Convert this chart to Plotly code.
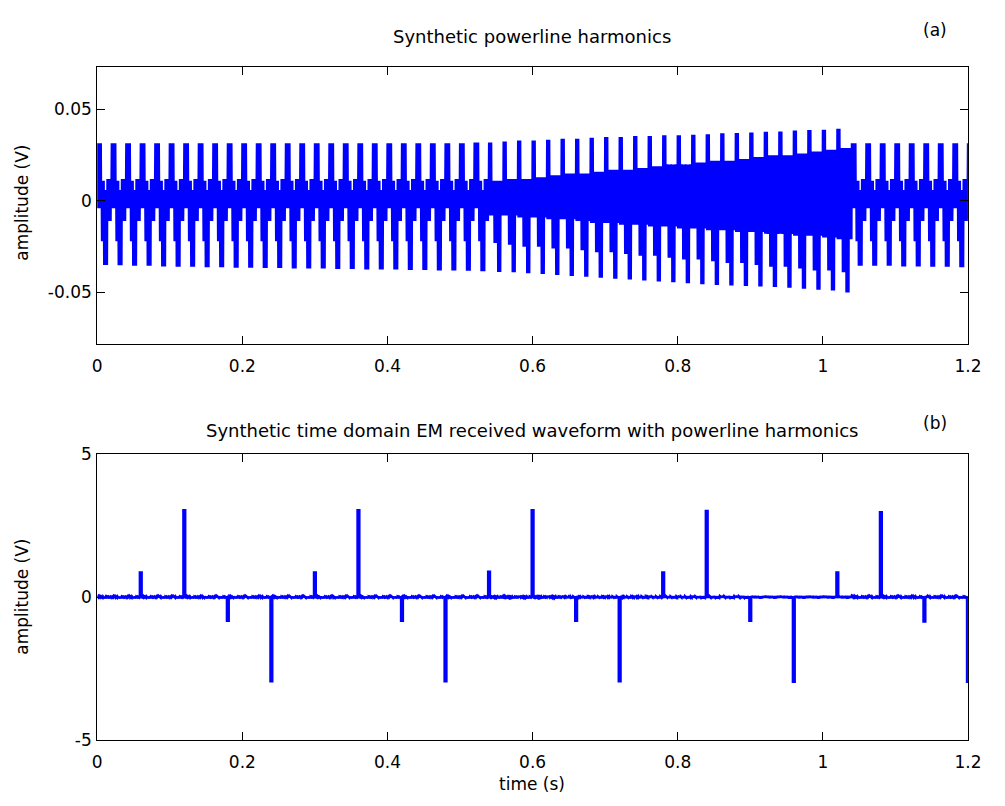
import plotly.graph_objects as go

# ---------------- data ----------------
CYCLE_S = 0.02          # 50 Hz fundamental, 60 cycles over 1.2 s
N_CYCLES = 60

# per-cycle positive / negative peak of panel (a)  (V)
top_peak = [0.0315, 0.0315, 0.0315, 0.0315, 0.0315, 0.0315, 0.0315, 0.0315, 0.0315, 0.0315,
            0.0315, 0.0315, 0.0315, 0.0315, 0.0315, 0.0315, 0.0315, 0.0315, 0.0315, 0.0315,
            0.0315, 0.0315, 0.0315, 0.0315, 0.0315, 0.0315, 0.032, 0.032, 0.0325, 0.033,
            0.033, 0.0335, 0.034, 0.034, 0.0345, 0.035, 0.035, 0.0355, 0.0355, 0.036,
            0.036, 0.0362, 0.0365, 0.037, 0.0372, 0.0375, 0.0378, 0.038, 0.0385, 0.0388,
            0.039, 0.0395, 0.0315, 0.0315, 0.0315, 0.0315, 0.0315, 0.0315, 0.0315, 0.0315]
bottom_peak = [-0.0350, -0.0352, -0.0355, -0.0355, -0.0358, -0.0360, -0.0360, -0.0362, -0.0362, -0.0365,
               -0.0365, -0.0367, -0.0367, -0.0370, -0.0370, -0.0370, -0.0372, -0.0372, -0.0375, -0.0375,
               -0.0375, -0.0378, -0.0378, -0.0380, -0.0380, -0.0382, -0.0385, -0.0388, -0.0390, -0.0395,
               -0.0400, -0.0405, -0.0410, -0.0415, -0.0420, -0.0425, -0.0430, -0.0435, -0.0440, -0.0445,
               -0.0450, -0.0455, -0.0460, -0.0462, -0.0465, -0.0468, -0.0470, -0.0475, -0.0480, -0.0485,
               -0.0490, -0.0500, -0.0355, -0.0355, -0.0355, -0.0358, -0.0358, -0.0360, -0.0360, -0.0362]

# disturbed cycles (dense inner band): upper edge, lower edge, inner dip
band_hi = {27: 0.011, 28: 0.012, 29: 0.012, 30: 0.013, 31: 0.014, 32: 0.015, 33: 0.015,
           34: 0.016, 35: 0.017, 36: 0.017, 37: 0.018, 38: 0.019, 39: 0.020, 40: 0.020, 41: 0.021,
           42: 0.022, 43: 0.022, 44: 0.023, 45: 0.024, 46: 0.025, 47: 0.025, 48: 0.026, 49: 0.027,
           50: 0.028, 51: 0.029}
band_lo = {27: -0.008, 28: -0.008, 29: -0.009, 30: -0.009, 31: -0.010, 32: -0.010, 33: -0.011,
           34: -0.012, 35: -0.012, 36: -0.013, 37: -0.013, 38: -0.014, 39: -0.014, 40: -0.015, 41: -0.015,
           42: -0.016, 43: -0.016, 44: -0.017, 45: -0.017, 46: -0.018, 47: -0.018, 48: -0.019, 49: -0.019,
           50: -0.020, 51: -0.021}
band_dip = {27: -0.023, 28: -0.024, 29: -0.025, 30: -0.025, 31: -0.026, 32: -0.026, 33: -0.027,
            34: -0.028, 35: -0.028, 36: -0.029, 37: -0.030, 38: -0.030, 39: -0.031, 40: -0.032, 41: -0.032,
            42: -0.033, 43: -0.034, 44: -0.034, 45: -0.035, 46: -0.036, 47: -0.036, 48: -0.037, 49: -0.038,
            50: -0.038, 51: -0.039}

# envelope of one cycle of the (very dense) harmonic signal:
# (phase start, phase end, upper level, lower level); "T"/"B"/"H"/"L"/"D" = per-cycle values above
normal_env = [(0.00, 0.30, "T", -0.004),
              (0.30, 0.46, 0.011, -0.022),
              (0.46, 0.70, 0.006, "B"),
              (0.70, 0.96, 0.012, -0.011),
              (0.96, 1.00, 0.022, 0.004)]
disturbed_env = [(0.00, 0.18, "T", "L"),
                 (0.18, 0.34, "H", "L"),
                 (0.34, 0.48, "H", "D"),
                 (0.48, 0.58, "H", "L"),
                 (0.58, 0.78, "H", "B"),
                 (0.78, 1.00, "H", "L")]
SAMPLES_PER_CYCLE = 40

# panel (b): transmitter-pulse responses
spike_time = [0.06, 0.12, 0.18, 0.24, 0.30, 0.36, 0.42, 0.48, 0.54, 0.60,
              0.66, 0.72, 0.78, 0.84, 0.90, 0.96, 1.02, 1.08, 1.14, 1.20]
spike_amp = [0.85, 3.02, -0.82, -2.93, 0.85, 3.02, -0.82, -2.93, 0.88, 3.02,
             -0.82, -2.93, 0.85, 3.00, -0.82, -2.95, 0.85, 2.95, -0.85, -2.95]
SPIKE_HALF_WIDTH = 0.001

x_ticks = [0, 0.2, 0.4, 0.6, 0.8, 1.0, 1.2]
x_ticklabels = ["0", "0.2", "0.4", "0.6", "0.8", "1", "1.2"]
ya_ticks = [-0.05, 0, 0.05]
ya_ticklabels = ["-0.05", "0", "0.05"]
yb_ticks = [-5, 0, 5]
yb_ticklabels = ["-5", "0", "5"]


# ---------------- build the waveform vertices ----------------
def level(lv, k):
    if lv == "T":
        return top_peak[k]
    if lv == "B":
        return bottom_peak[k]
    if lv == "H":
        return band_hi[k]
    if lv == "L":
        return band_lo[k]
    if lv == "D":
        return band_dip[k]
    return lv


t_a, v_a = [], []
for k in range(N_CYCLES):
    env = disturbed_env if k in band_hi else normal_env
    for i in range(SAMPLES_PER_CYCLE):
        ph = i / SAMPLES_PER_CYCLE
        seg = next(s for s in env if s[0] <= ph < s[1])
        lv = seg[2] if i % 2 == 0 else seg[3]
        t_a.append(round((k + ph) * CYCLE_S, 6))
        v_a.append(level(lv, k))
t_a.append(N_CYCLES * CYCLE_S)
v_a.append(top_peak[-1])

# panel (b): powerline waveform with pulses inserted
t_b, v_b = [], []
si = 0
for t, v in zip(t_a, v_a):
    while si < len(spike_time) and spike_time[si] - SPIKE_HALF_WIDTH <= t:
        ts, a = spike_time[si], spike_amp[si]
        t_b += [ts - SPIKE_HALF_WIDTH, ts - SPIKE_HALF_WIDTH, ts + SPIKE_HALF_WIDTH, ts + SPIKE_HALF_WIDTH]
        v_b += [0.0, a, a, 0.0]
        si += 1
    if t_b and t <= t_b[-1]:
        continue
    t_b.append(t)
    v_b.append(v)

# ---------------- figure ----------------
BLUE = "#0000FF"
FONT = "DejaVu Sans, Verdana, sans-serif"
FS = 17
FS_TITLE = 18

fig = go.Figure()
fig.add_trace(go.Scatter(x=t_a, y=v_a, mode="lines", line=dict(color=BLUE, width=2.2, simplify=False),
                         xaxis="x", yaxis="y", showlegend=False, hoverinfo="skip"))
fig.add_trace(go.Scatter(x=t_b, y=v_b, mode="lines", line=dict(color=BLUE, width=2.8),
                         xaxis="x2", yaxis="y2", showlegend=False, hoverinfo="skip"))

axis_common = dict(showline=True, linecolor="black", linewidth=1, mirror="allticks",
                   ticks="inside", ticklen=8, tickcolor="black", showgrid=False, zeroline=False,
                   tickfont=dict(family=FONT, size=FS, color="black"))

X0, X1 = 94 / 1005, 981.5 / 1005
fig.update_layout(
    width=1005, height=806,
    margin=dict(l=0, r=0, t=0, b=0),
    paper_bgcolor="white", plot_bgcolor="white",
    font=dict(family=FONT, size=FS, color="black"),
    xaxis=dict(domain=[X0, X1], range=[0, 1.2], anchor="y", ticklabelstandoff=6,
               tickvals=x_ticks, ticktext=x_ticklabels, **axis_common),
    yaxis=dict(domain=[1 - 343 / 806, 1 - 58 / 806], range=[-0.0785, 0.0735], anchor="x",
               tickvals=ya_ticks, ticktext=ya_ticklabels, ticklabelstandoff=1, **axis_common),
    xaxis2=dict(domain=[X0, X1], range=[0, 1.2], anchor="y2", ticklabelstandoff=6,
                tickvals=x_ticks, ticktext=x_ticklabels, **axis_common),
    yaxis2=dict(domain=[1 - 749 / 806, 1 - 455 / 806], range=[-5, 5], anchor="x2",
                tickvals=yb_ticks, ticktext=yb_ticklabels, ticklabelstandoff=1, **axis_common),
)

ann = [
    dict(text="Synthetic powerline harmonics", x=537.5 / 1005, y=1 - 27 / 806, size=FS_TITLE),
    dict(text="(a)", x=948 / 1005, y=1 - 20 / 806, size=FS),
    dict(text="Synthetic time domain EM received waveform with powerline harmonics",
         x=537.5 / 1005, y=1 - 431 / 806, size=FS_TITLE),
    dict(text="(b)", x=948 / 1005, y=1 - 423 / 806, size=FS),
    dict(text="time (s)", x=537.5 / 1005, y=1 - 794 / 806, size=FS),
    dict(text="amplitude (V)", x=17 / 1005, y=1 - 198 / 806, textangle=-90, size=FS),
    dict(text="amplitude (V)", x=17 / 1005, y=1 - 602 / 806, textangle=-90, size=FS),
]
for a in ann:
    sz = a.pop("size")
    fig.add_annotation(xref="paper", yref="paper", showarrow=False,
                       xanchor="center", yanchor="middle",
                       font=dict(family=FONT, size=sz, color="black"), **a)

fig.write_html("out.html")
